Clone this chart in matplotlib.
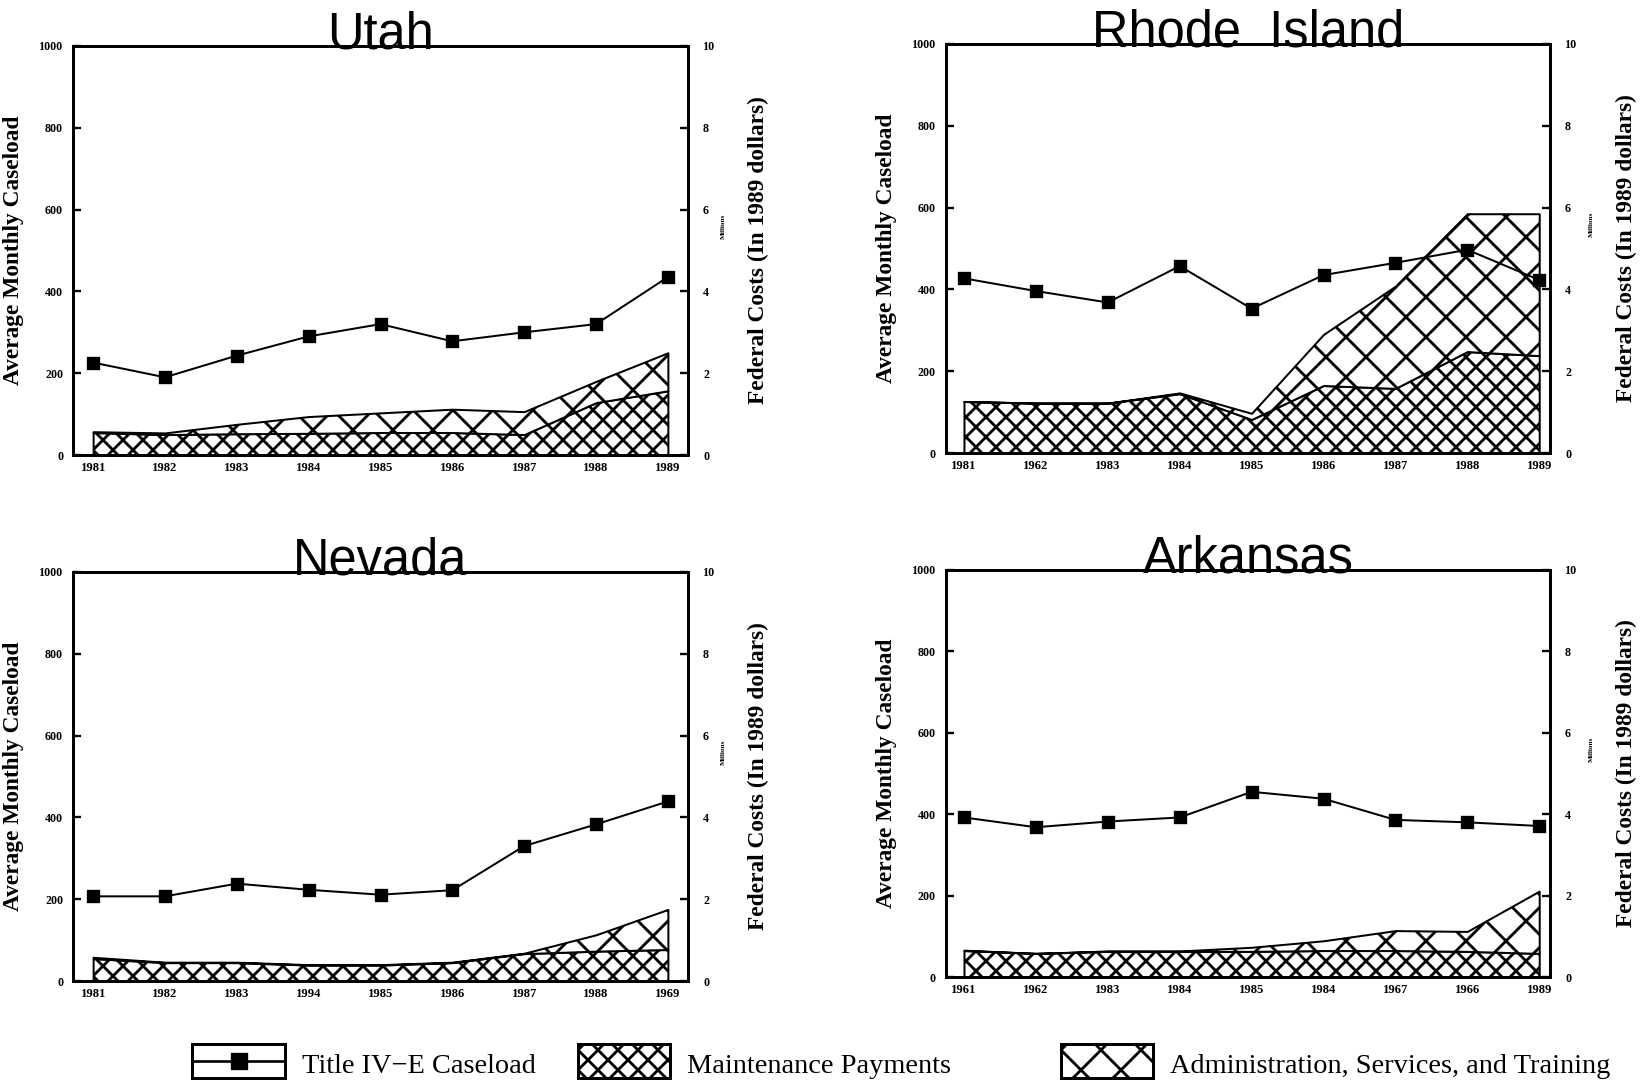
import matplotlib
matplotlib.use("Agg")
import matplotlib.pyplot as plt
from matplotlib.patches import Rectangle
from matplotlib.lines import Line2D
from matplotlib.collections import LineCollection
from matplotlib.transforms import IdentityTransform

DPI = 240
W, H = 1642, 1082

plt.rcParams["font.family"] = ["Liberation Serif", "DejaVu Serif"]

years = list(range(9))

utah_ticks = ["1981", "1982", "1983", "1984", "1985", "1986", "1987", "1988", "1989"]
utah_caseload = [226, 190, 243, 290, 320, 278, 300, 320, 435]
utah_maint = [0.55, 0.50, 0.52, 0.53, 0.55, 0.55, 0.50, 1.28, 1.57]
utah_total = [0.57, 0.54, 0.75, 0.94, 1.03, 1.12, 1.06, 1.80, 2.50]

ri_ticks = ["1981", "1962", "1983", "1984", "1985", "1986", "1987", "1988", "1989"]
ri_caseload = [427, 396, 368, 457, 353, 435, 465, 497, 423]
ri_maint = [1.26, 1.22, 1.22, 1.45, 0.82, 1.65, 1.58, 2.48, 2.38]
ri_total = [1.26, 1.22, 1.22, 1.47, 0.97, 2.90, 4.08, 5.85, 5.85]

nv_ticks = ["1981", "1982", "1983", "1994", "1985", "1986", "1987", "1988", "1969"]
nv_caseload = [207, 207, 238, 223, 211, 222, 330, 383, 439]
nv_maint = [0.55, 0.45, 0.45, 0.39, 0.39, 0.45, 0.67, 0.73, 0.77]
nv_total = [0.58, 0.46, 0.46, 0.40, 0.40, 0.46, 0.68, 1.13, 1.75]

ar_ticks = ["1961", "1962", "1983", "1984", "1985", "1984", "1967", "1966", "1989"]
ar_caseload = [392, 368, 382, 392, 455, 438, 386, 380, 371]
ar_maint = [0.65, 0.58, 0.63, 0.63, 0.63, 0.65, 0.65, 0.63, 0.58]
ar_total = [0.66, 0.58, 0.64, 0.64, 0.73, 0.89, 1.14, 1.12, 2.11]

left_ticks = [0, 200, 400, 600, 800, 1000]
right_ticks = [0, 2, 4, 6, 8, 10]

# crosshatch spacing in pixels: tight for maintenance, wide for admin
DENSE = 20
SPARSE = 40
HATCH_LW = 0.85

fig = plt.figure(figsize=(W / DPI, H / DPI), dpi=DPI)


def px_axes(l, t, r, b):
    return fig.add_axes([l / W, 1 - b / H, (r - l) / W, (b - t) / H])


def cross_lines(box, step):
    # box is (l, t, r, b) in image pixels; display y runs upward
    l, t, r, b = box
    x0, y0, x1, y1 = l, H - b, r, H - t
    w, h = x1 - x0, y1 - y0
    segs = []
    k = -w
    while k < h + w:
        segs.append([(x0, y0 + k), (x1, y0 + k + w)])
        segs.append([(x0, y0 + k), (x1, y0 + k - w)])
        k += step
    return segs


def hatch_fill(ax, clip, box, step):
    lc = LineCollection(cross_lines(box, step), colors="black",
                        linewidths=HATCH_LW, transform=IdentityTransform(),
                        zorder=2)
    ax.add_collection(lc, autolim=False)
    if isinstance(clip, Rectangle):
        lc.set_clip_path(clip)
    else:
        lc.set_clip_path(clip.get_paths()[0], ax.transData)


def draw_panel(box, xlim, rlab_px, title, ticks, caseload, maint, total):
    ax = px_axes(*box)
    ax2 = ax.twinx()
    width = box[2] - box[0]

    # cost areas on the right scale, maintenance stacked under admin
    ax2.set_ylim(0, 10)
    ax2.set_xlim(*xlim)
    p1 = ax2.fill_between(years, 0, maint, facecolor="white", edgecolor="black",
                          linewidth=0.6)
    p2 = ax2.fill_between(years, maint, total, facecolor="white",
                          edgecolor="black", linewidth=0.6)
    hatch_fill(ax2, p1, box, DENSE)
    hatch_fill(ax2, p2, box, SPARSE)
    ax2.set_yticks(right_ticks)
    ax2.tick_params(axis="y", direction="in", length=2.4, width=0.7, pad=4.5,
                    labelsize=3.6)
    for lab in ax2.get_yticklabels():
        lab.set_fontweight("bold")

    ax.plot(years, caseload, color="black", lw=0.6, marker="s", markersize=2.8)
    ax.set_zorder(ax2.get_zorder() + 1)
    ax.patch.set_visible(False)
    ax.set_ylim(0, 1000)
    ax.set_xlim(*xlim)
    ax.set_yticks(left_ticks)
    ax.set_xticks(years)
    ax.set_xticklabels(ticks)
    ax.tick_params(axis="y", direction="in", length=2.4, width=0.7, pad=3,
                   labelsize=3.6)
    ax.tick_params(axis="x", length=0, pad=2, labelsize=3.8)
    for lab in ax.get_yticklabels() + ax.get_xticklabels():
        lab.set_fontweight("bold")
    for a in (ax, ax2):
        for s in a.spines.values():
            s.set_linewidth(0.9)

    ax.set_ylabel("Average Monthly Caseload", fontsize=7, fontweight="bold")
    ax.yaxis.set_label_coords(-49 / width, 0.5)
    ax2.set_ylabel("Federal Costs (In 1989 dollars)", fontsize=7,
                   fontweight="bold", rotation=90)
    ax2.yaxis.set_label_coords(1 + rlab_px / width, 0.5)
    ax2.text(1 + (rlab_px - 25) / width, 0.56, "Millions",
             transform=ax2.transAxes, rotation=90, fontsize=2.2,
             fontweight="bold", ha="center", va="center")

    ax.text(0.5, 0.995, title, transform=ax.transAxes, ha="center",
            va="baseline", fontsize=15.2,
            family=["Liberation Sans Narrow", "Liberation Sans", "DejaVu Sans"])


draw_panel((73, 46, 688, 455), (-0.28, 8.28), 60, "Utah",
           utah_ticks, utah_caseload, utah_maint, utah_total)
draw_panel((946, 44, 1550, 453), (-0.25, 8.15), 66, "Rhode  Island",
           ri_ticks, ri_caseload, ri_maint, ri_total)
draw_panel((73, 572, 688, 981), (-0.28, 8.28), 60, "Nevada",
           nv_ticks, nv_caseload, nv_maint, nv_total)
draw_panel((946, 570, 1550, 977), (-0.25, 8.15), 66, "Arkansas",
           ar_ticks, ar_caseload, ar_maint, ar_total)

# legend strip along the bottom, in pixel units (y measured from the top)
leg = fig.add_axes([0, 0, 1, 1], zorder=-1)
leg.set_xlim(0, W)
leg.set_ylim(H, 0)
leg.axis("off")

box_top, box_bot = 1044, 1078
bh = box_bot - box_top
mid = (box_top + box_bot) / 2
leg.add_patch(Rectangle((192, box_top), 93, bh, facecolor="white",
                        edgecolor="black", lw=0.9))
leg.add_line(Line2D([192, 285], [mid, mid], color="black", lw=0.8))
leg.plot([238.5], [mid], marker="s", color="black", markersize=4.2)

for x0, step in ((578, DENSE), (1061, SPARSE)):
    face = Rectangle((x0, box_top), 92, bh, facecolor="white", edgecolor="none",
                     zorder=1)
    leg.add_patch(face)
    hatch_fill(leg, face, (x0, box_top, x0 + 92, box_bot), step)
    leg.add_patch(Rectangle((x0, box_top), 92, bh, fill=False,
                            edgecolor="black", lw=0.9, zorder=3))

leg_kw = dict(fontsize=8.5, va="baseline", ha="left")
leg.text(302, 1073, "Title IV\u2212E Caseload", **leg_kw)
leg.text(687, 1073, "Maintenance Payments", **leg_kw)
leg.text(1170, 1073, "Administration, Services, and Training", **leg_kw)

fig.savefig("out.png", dpi=DPI)
